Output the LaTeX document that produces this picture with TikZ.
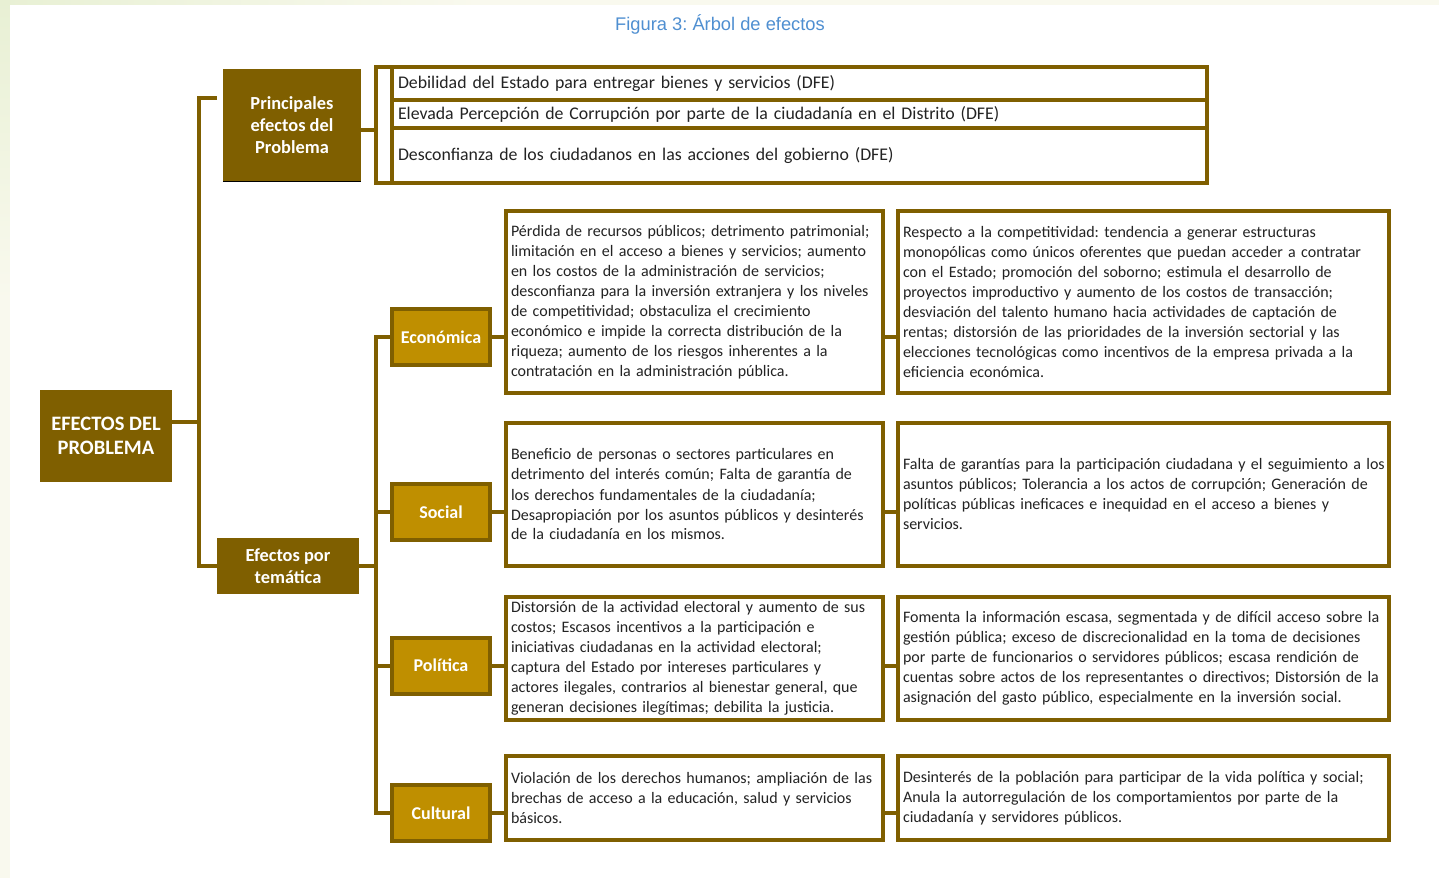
\documentclass[tikz,border=0pt]{standalone}
\usepackage{fontspec}
\setmainfont{Carlito}
\newfontfamily\titlefont{Liberation Sans}
\definecolor{brownD}{RGB}{127,95,0}
\definecolor{goldC}{RGB}{191,143,0}
\definecolor{txtC}{RGB}{35,35,35}
\definecolor{titleC}{RGB}{79,143,209}
\definecolor{creamC}{RGB}{249,249,238}
\definecolor{greenC}{RGB}{232,240,212}
\tikzset{
  darkbox/.style={fill=brownD, draw=none, text=white, align=center, inner sep=0pt},
  catbox/.style={fill=goldC, draw=brownD, line width=4pt, text=white, align=center,
    font=\bfseries\fontsize{18pt}{20pt}\selectfont, minimum width=98pt, minimum height=56pt, inner sep=0pt},
  tbox/.style={draw=brownD, line width=4pt, fill=white, text=txtC, align=left, inner xsep=5pt, inner ysep=0pt,
    font=\fontsize{16pt}{20pt}\selectfont},
  rowbox/.style={draw=brownD, line width=4pt, fill=white, text=txtC, align=left, inner xsep=6pt, inner ysep=0pt,
    text width=803pt, minimum width=815pt, font=\fontsize{17.8pt}{20pt}\selectfont},
  conn/.style={draw=brownD, line width=4pt}
}
\begin{document}
\frenchspacing
\begin{tikzpicture}[x=1pt,y=-1pt]
\useasboundingbox (0,0) rectangle (1439,878);
% background
\fill[creamC] (0,0) rectangle (1439,878);
\shade[left color=greenC, right color=creamC] (0,0) rectangle (480,5);
\shade[top color=greenC, bottom color=creamC] (0,0) rectangle (10,300);
\fill[white] (10,5) rectangle (1439,878);

% title
\node[font=\titlefont\fontsize{18.3pt}{20pt}\selectfont, text=titleC] (title) at (720,24) {Figura 3: Árbol de efectos};

% root
\node[darkbox, minimum width=132pt, minimum height=92pt, font=\bfseries\fontsize{20.5pt}{24pt}\selectfont] (ep) at (106,436) {EFECTOS DEL\\PROBLEMA};

% principales
\node[darkbox, minimum width=138pt, minimum height=112pt, font=\bfseries\fontsize{18.4pt}{22pt}\selectfont] (pe) at (292,125) {Principales\\efectos del\\Problema};
\draw[black, line width=1.2pt] (pe.south west) -- (pe.south east);

% bracket with rows
\node[draw=brownD, line width=4pt, fill=white, minimum width=831.5pt, minimum height=116.5pt, inner sep=0pt] (br) at (791.25,124.75) {};
\node[rowbox, minimum height=33.5pt] (r1) at (799.5,83.25) {Debilidad del Estado para entregar bienes y servicios (DFE)};
\node[rowbox, minimum height=28pt] (r2) at (799.5,114) {Elevada Percepción de Corrupción por parte de la ciudadanía en el Distrito (DFE)};
\node[rowbox, minimum height=55pt] (r3) at (799.5,155.5) {Desconfianza de los ciudadanos en las acciones del gobierno (DFE)};

% tematica
\node[darkbox, minimum width=142pt, minimum height=56pt, font=\bfseries\fontsize{18.4pt}{22pt}\selectfont] (et) at (288,566) {Efectos por\\temática};

% categories
\node[catbox] (eco) at (441,337) {Económica};
\node[catbox] (soc) at (441,512) {Social};
\node[catbox] (pol) at (441,665.5) {Política};
\node[catbox] (cul) at (441,813) {Cultural};

% column 1 boxes
\node[tbox, text width=367pt, minimum height=182pt] (e1) at (694.5,302) {Pérdida de recursos públicos; detrimento patrimonial;\\limitación en el acceso a bienes y servicios; aumento\\en los costos de la administración de servicios;\\desconfianza para la inversión extranjera y los niveles\\de competitividad; obstaculiza el crecimiento\\económico e impide la correcta distribución de la\\riqueza; aumento de los riesgos inherentes a la\\contratación en la administración pública.};
\node[tbox, text width=367pt, minimum height=143pt] (s1) at (694.5,494.5) {Beneficio de personas o sectores particulares en\\detrimento del interés común; Falta de garantía de\\los derechos fundamentales de la ciudadanía;\\Desapropiación por los asuntos públicos y desinterés\\de la ciudadanía en los mismos.};
\node[tbox, text width=367pt, minimum height=123pt] (p1) at (694.5,658.5) {Distorsión de la actividad electoral y aumento de sus\\costos; Escasos incentivos a la participación e\\iniciativas ciudadanas en la actividad electoral;\\captura del Estado por intereses particulares y\\actores ilegales, contrarios al bienestar general, que\\generan decisiones ilegítimas; debilita la justicia.};
\node[tbox, text width=367pt, minimum height=84pt] (c1) at (694.5,798) {Violación de los derechos humanos; ampliación de las\\brechas de acceso a la educación, salud y servicios\\básicos.};

% column 2 boxes
\node[tbox, text width=481pt, minimum height=182pt] (e2) at (1143.5,302) {Respecto a la competitividad: tendencia a generar estructuras\\monopólicas como únicos oferentes que puedan acceder a contratar\\con el Estado; promoción del soborno; estimula el desarrollo de\\proyectos improductivo y aumento de los costos de transacción;\\desviación del talento humano hacia actividades de captación de\\rentas; distorsión de las prioridades de la inversión sectorial y las\\elecciones tecnológicas como incentivos de la empresa privada a la\\eficiencia económica.};
\node[tbox, text width=481pt, minimum height=143pt] (s2) at (1143.5,494.5) {\mbox{Falta de garantías para la participación ciudadana y el seguimiento a los}\\asuntos públicos; Tolerancia a los actos de corrupción; Generación de\\políticas públicas ineficaces e inequidad en el acceso a bienes y\\servicios.};
\node[tbox, text width=481pt, minimum height=123pt] (p2) at (1143.5,658.5) {Fomenta la información escasa, segmentada y de difícil acceso sobre la\\gestión pública; exceso de discrecionalidad en la toma de decisiones\\por parte de funcionarios o servidores públicos; escasa rendición de\\cuentas sobre actos de los representantes o directivos; Distorsión de la\\asignación del gasto público, especialmente en la inversión social.};
\node[tbox, text width=481pt, minimum height=84pt] (c2) at (1143.5,798) {Desinterés de la población para participar de la vida política y social;\\Anula la autorregulación de los comportamientos por parte de la\\ciudadanía y servidores públicos.};

% connectors
\coordinate (stub) at (217,98);
\coordinate (j1) at (199,422);
\coordinate (j2) at (376,566);
\draw[conn] ([yshift=14pt]ep.east) -- (j1);
\draw[conn] (stub) -| (j1) |- (et.west);
\draw[conn] ([yshift=-5pt]pe.east) -- ([yshift=-5pt]pe.east -| br.west);
\draw[conn] (et.east) -- (j2);
\draw[conn] (eco.west) -| (j2) |- (cul.west);
\draw[conn] (soc.west) -- (soc.west -| j2);
\draw[conn] (pol.west) -- (pol.west -| j2);
\draw[conn] (eco.east) -- (eco.east -| e1.west);
\draw[conn] (soc.east) -- (soc.east -| s1.west);
\draw[conn] (pol.east) -- (pol.east -| p1.west);
\draw[conn] (cul.east) -- (cul.east -| c1.west);
\draw[conn] (e1.east |- eco.east) -- (e2.west |- eco.east);
\draw[conn] (s1.east |- soc.east) -- (s2.west |- soc.east);
\draw[conn] (p1.east |- pol.east) -- (p2.west |- pol.east);
\draw[conn] (c1.east |- cul.east) -- (c2.west |- cul.east);
\end{tikzpicture}
\end{document}
